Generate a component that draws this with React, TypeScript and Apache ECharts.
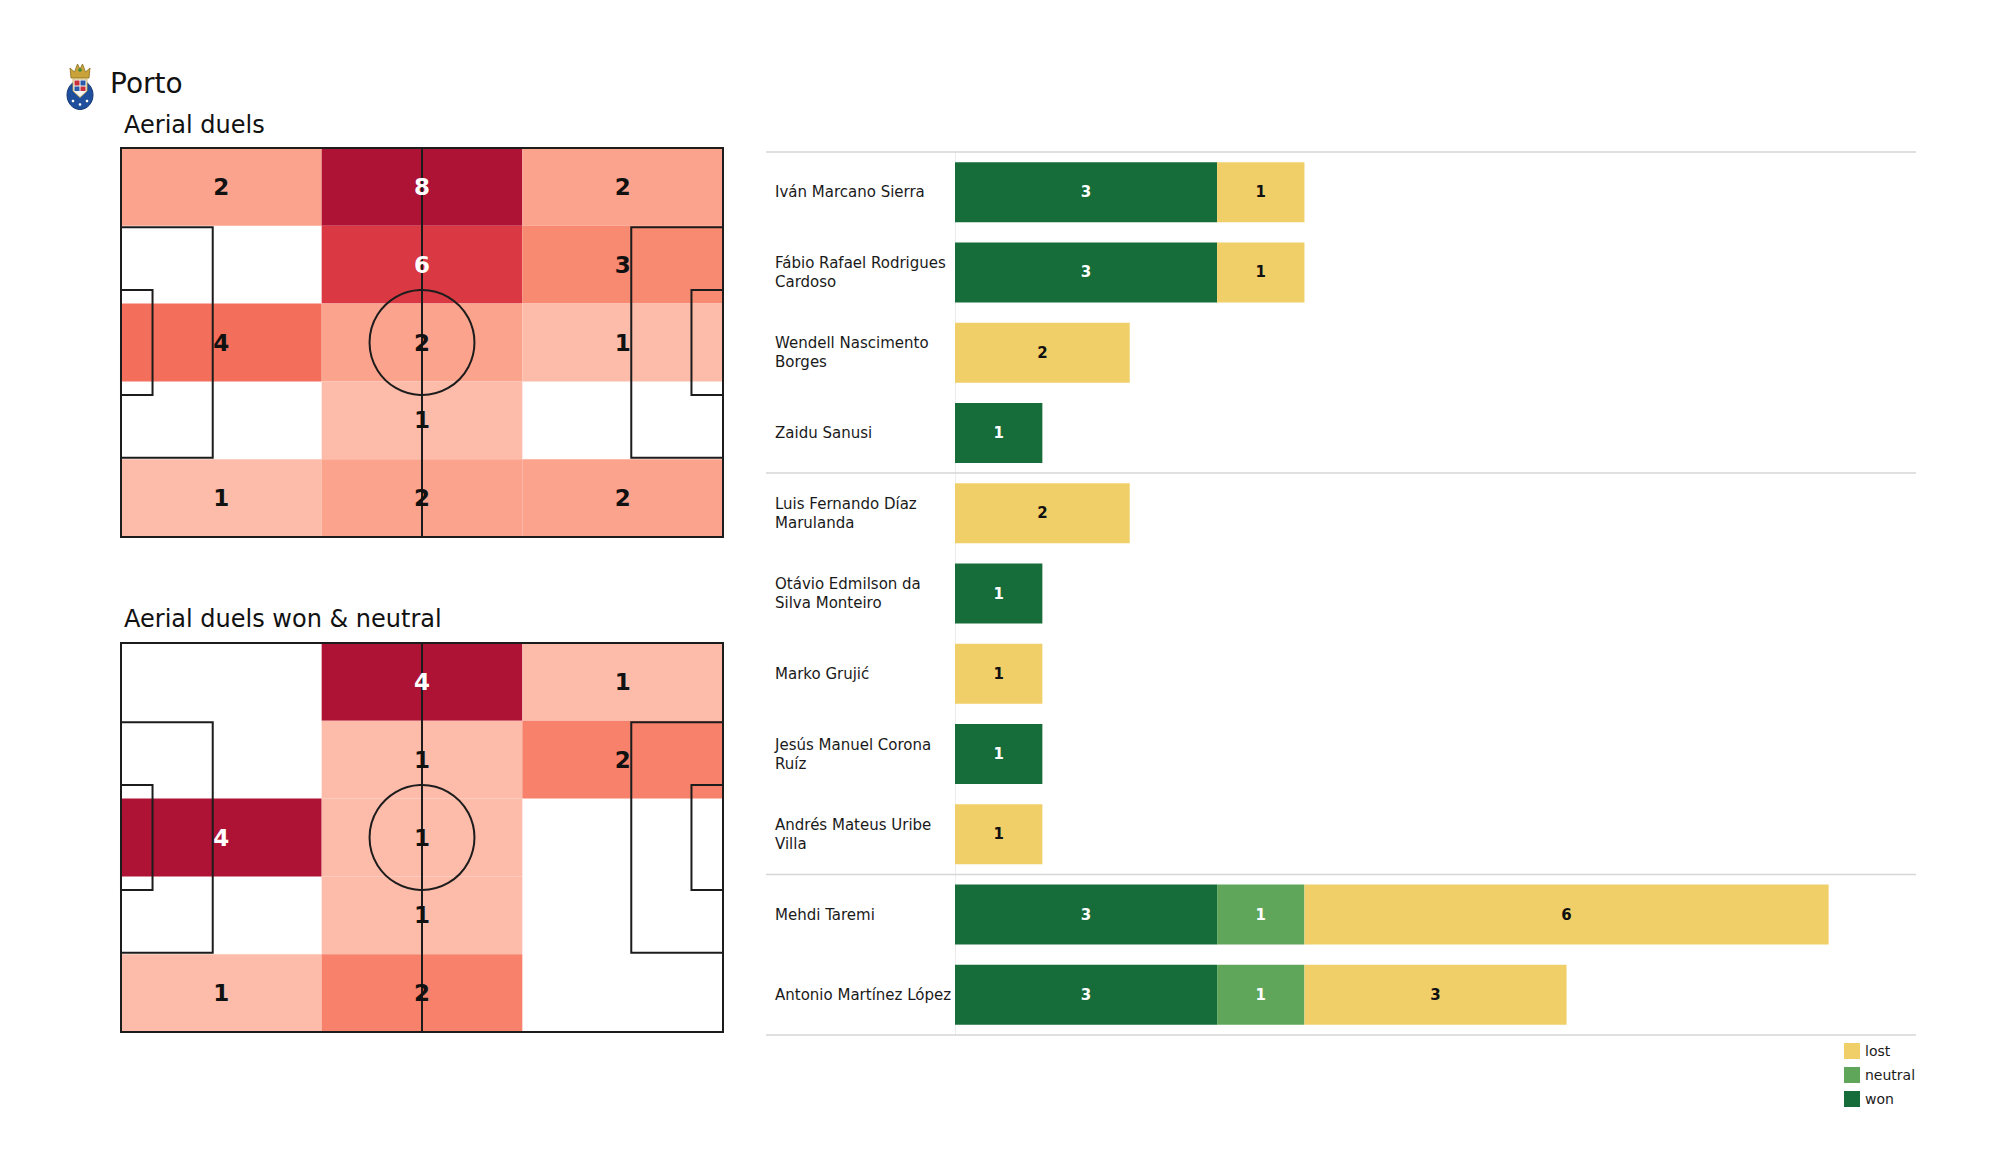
import React, { useEffect, useRef } from "react";
import * as echarts from "echarts";

// ---------------- DATA ----------------
const TEAM = "Porto";
const TITLE_ALL = "Aerial duels";
const TITLE_WON = "Aerial duels won & neutral";

// heat grids: 5 rows (top -> bottom) x 3 columns (left -> right)
const DUELS_GRID = [
  [2, 8, 2],
  [0, 6, 3],
  [4, 2, 1],
  [0, 1, 0],
  [1, 2, 2],
];
const WON_NEUTRAL_GRID = [
  [0, 4, 1],
  [0, 1, 2],
  [4, 1, 0],
  [0, 1, 0],
  [1, 2, 0],
];

const PLAYERS = [
  "Iván Marcano Sierra",
  "Fábio Rafael Rodrigues\nCardoso",
  "Wendell Nascimento\nBorges",
  "Zaidu Sanusi",
  "Luis Fernando Díaz\nMarulanda",
  "Otávio Edmilson da\nSilva Monteiro",
  "Marko Grujić",
  "Jesús Manuel Corona\nRuíz",
  "Andrés Mateus Uribe\nVilla",
  "Mehdi Taremi",
  "Antonio Martínez López",
];
const WON = [3, 3, 0, 1, 0, 1, 0, 1, 0, 3, 3];
const NEUTRAL = [0, 0, 0, 0, 0, 0, 0, 0, 0, 1, 1];
const LOST = [1, 1, 2, 0, 2, 0, 1, 0, 1, 6, 3];
const GROUP_SIZES = [4, 5, 2];
const LEGEND_ORDER = ["lost", "neutral", "won"];

// pitch geometry (metres)
const PITCH_L = 105;
const PITCH_W = 68;
const PEN_L = 16;
const PEN_W = 40.32;
const SIX_L = 5.5;
const SIX_W = 18.32;
const CIRCLE_R = 9.15;

// ---------------- STYLE ----------------
const FONT = "DejaVu Sans";
const HEAT_COLORS = ["#FDBBAA", "#FB9981", "#F5755E", "#E74C4A", "#D02B3D", "#AE1235"];
const C_WON = "#176d39";
const C_NEUTRAL = "#60a65a";
const C_LOST = "#f0cf68";
const LINE_C = "#1c1c1c";

const ROWS = DUELS_GRID.length;
const COLS = DUELS_GRID[0].length;
const CELL_W = PITCH_L / COLS;
const CELL_H = PITCH_W / ROWS;

function cells(grid: number[][]) {
  const out: number[][] = [];
  grid.forEach((row, r) => row.forEach((v, c) => { if (v > 0) out.push([c, r, v]); }));
  return out;
}
function gridMin(grid: number[][]) {
  return Math.min(...grid.flat().filter((v) => v > 0));
}
function gridMax(grid: number[][]) {
  return Math.max(...grid.flat());
}

function cellSeries(grid: number[][], axis: number) {
  return {
    type: "custom",
    xAxisIndex: axis,
    yAxisIndex: axis,
    z: 1,
    encode: { x: 0, y: 1 },
    data: cells(grid),
    renderItem: (params: any, api: any) => {
      const c = api.value(0), r = api.value(1);
      const a = api.coord([c * CELL_W, r * CELL_H]);
      const b = api.coord([(c + 1) * CELL_W, (r + 1) * CELL_H]);
      return {
        type: "rect",
        shape: { x: a[0], y: a[1], width: b[0] - a[0], height: b[1] - a[1] },
        style: { fill: api.visual("color") },
      };
    },
  };
}

function labelSeries(grid: number[][], axis: number) {
  const mn = gridMin(grid), mx = gridMax(grid);
  return {
    type: "custom",
    xAxisIndex: axis,
    yAxisIndex: axis,
    z: 3,
    encode: { x: 0, y: 1 },
    data: cells(grid),
    renderItem: (params: any, api: any) => {
      const c = api.value(0), r = api.value(1), v = api.value(2);
      const p = api.coord([(c + 0.5) * CELL_W, (r + 0.5) * CELL_H]);
      const t = mx > mn ? (v - mn) / (mx - mn) : 1;
      return {
        type: "text",
        x: p[0],
        y: p[1],
        style: {
          text: String(v),
          fill: t > 0.6 ? "#ffffff" : "#111111",
          fontFamily: FONT,
          fontSize: 23,
          fontWeight: "bold",
          align: "center",
          verticalAlign: "middle",
        },
      };
    },
  };
}

function pitchSeries(axis: number) {
  return {
    type: "custom",
    xAxisIndex: axis,
    yAxisIndex: axis,
    z: 2,
    encode: { x: 0, y: 1 },
    data: [[PITCH_L / 2, PITCH_W / 2]],
    renderItem: (params: any, api: any) => {
      const st = { fill: "none", stroke: LINE_C, lineWidth: 2 };
      const rect = (x0: number, y0: number, x1: number, y1: number) => {
        const a = api.coord([x0, y0]);
        const b = api.coord([x1, y1]);
        return { type: "rect", shape: { x: a[0], y: a[1], width: b[0] - a[0], height: b[1] - a[1] }, style: st };
      };
      const h0 = api.coord([PITCH_L / 2, 0]);
      const h1 = api.coord([PITCH_L / 2, PITCH_W]);
      const ctr = api.coord([PITCH_L / 2, PITCH_W / 2]);
      const rad = api.size([CIRCLE_R, 0])[0];
      const pw0 = (PITCH_W - PEN_W) / 2, pw1 = (PITCH_W + PEN_W) / 2;
      const sw0 = (PITCH_W - SIX_W) / 2, sw1 = (PITCH_W + SIX_W) / 2;
      return {
        type: "group",
        children: [
          rect(0, 0, PITCH_L, PITCH_W),
          { type: "line", shape: { x1: h0[0], y1: h0[1], x2: h1[0], y2: h1[1] }, style: st },
          { type: "circle", shape: { cx: ctr[0], cy: ctr[1], r: rad }, style: st },
          rect(0, pw0, PEN_L, pw1),
          rect(PITCH_L - PEN_L, pw0, PITCH_L, pw1),
          rect(0, sw0, SIX_L, sw1),
          rect(PITCH_L - SIX_L, sw0, PITCH_L, sw1),
        ],
      };
    },
  };
}

function barSeries(name: string, data: number[], color: string, labelColor: string) {
  return {
    type: "bar",
    name,
    stack: "total",
    xAxisIndex: 2,
    yAxisIndex: 2,
    barWidth: 60,
    data,
    itemStyle: { color },
    label: {
      show: true,
      position: "inside",
      color: labelColor,
      fontFamily: FONT,
      fontSize: 15,
      fontWeight: "bold",
      formatter: (p: any) => (p.value ? String(p.value) : ""),
    },
    emphasis: { disabled: true },
  };
}

const PITCH_AXIS = (grid: number) => [
  { gridIndex: grid, type: "value", min: 0, max: PITCH_L, show: false },
];

export default function App() {
  const ref = useRef<HTMLDivElement>(null);
  useEffect(() => {
    if (!ref.current) return;
    const chart = echarts.init(ref.current, null, { renderer: "svg" });
    const option: any = {
      animation: false,
      backgroundColor: "#ffffff",
      textStyle: { fontFamily: FONT },
      grid: [
        { left: 121, top: 148, width: 602, height: 389 },
        { left: 121, top: 643, width: 602, height: 389 },
        { left: 955, top: 152, width: 961, height: 883 },
      ],
      xAxis: [
        ...PITCH_AXIS(0),
        ...PITCH_AXIS(1),
        { gridIndex: 2, type: "value", min: 0, max: 11, show: false },
      ],
      yAxis: [
        { gridIndex: 0, type: "value", min: 0, max: PITCH_W, inverse: true, show: false },
        { gridIndex: 1, type: "value", min: 0, max: PITCH_W, inverse: true, show: false },
        {
          gridIndex: 2,
          type: "category",
          data: PLAYERS,
          inverse: true,
          axisLine: { show: true, lineStyle: { color: "#ececec", width: 1 } },
          axisTick: { show: false },
          splitLine: { show: false },
          axisLabel: {
            align: "left",
            margin: 180,
            fontFamily: FONT,
            fontSize: 15,
            lineHeight: 19,
            color: "#1a1a1a",
          },
        },
      ],
      visualMap: [
        {
          type: "continuous", show: false, seriesIndex: 0, dimension: 2,
          min: gridMin(DUELS_GRID), max: gridMax(DUELS_GRID),
          inRange: { color: HEAT_COLORS },
        },
        {
          type: "continuous", show: false, seriesIndex: 3, dimension: 2,
          min: gridMin(WON_NEUTRAL_GRID), max: gridMax(WON_NEUTRAL_GRID),
          inRange: { color: HEAT_COLORS },
        },
      ],
      legend: {
        data: LEGEND_ORDER,
        orient: "vertical",
        left: 1844,
        top: 1043,
        padding: 0,
        itemWidth: 16,
        itemHeight: 16,
        itemGap: 8,
        icon: "rect",
        selectedMode: false,
        textStyle: { fontFamily: FONT, fontSize: 14, color: "#1a1a1a" },
      },
      series: [
        cellSeries(DUELS_GRID, 0),
        pitchSeries(0),
        labelSeries(DUELS_GRID, 0),
        cellSeries(WON_NEUTRAL_GRID, 1),
        pitchSeries(1),
        labelSeries(WON_NEUTRAL_GRID, 1),
        barSeries("won", WON, C_WON, "#ffffff"),
        barSeries("neutral", NEUTRAL, C_NEUTRAL, "#ffffff"),
        barSeries("lost", LOST, C_LOST, "#111111"),
      ],
    };
    chart.setOption(option);

    // group separator lines
    const pos = PLAYERS.map((_, i) => chart.convertToPixel({ yAxisIndex: 2 } as any, i) as number);
    const band = pos[1] - pos[0];
    const ys = [pos[0] - band / 2];
    let idx = 0;
    GROUP_SIZES.forEach((g) => { idx += g; ys.push(pos[idx - 1] + band / 2); });
    const xRight = chart.convertToPixel({ xAxisIndex: 2 } as any, 11) as number;
    const sepLines = ys.map((y) => ({
      type: "line",
      shape: { x1: 766, y1: y, x2: xRight, y2: y },
      style: { stroke: "#d6d6d6", lineWidth: 1.5 },
      z: 5,
    }));

    const logo = [
      { type: "polygon", shape: { points: [[71, 78], [70, 68], [74.5, 72], [77.5, 64], [80, 69], [82.5, 64], [85.5, 72], [90, 68], [89, 78]] }, style: { fill: "#c9a23a", stroke: "#8a6d1f", lineWidth: 0.8 } },
      { type: "circle", shape: { cx: 80, cy: 70, r: 1.8 }, style: { fill: "#3f8a3a" } },
      { type: "ellipse", shape: { cx: 80, cy: 95, rx: 13, ry: 14.5 }, style: { fill: "#1f4f9c", stroke: "#163a75", lineWidth: 1 } },
      { type: "polygon", shape: { points: [[73, 79], [87, 79], [87, 91], [80, 97.5], [73, 91]] }, style: { fill: "#f4f4f4", stroke: "#c9a23a", lineWidth: 0.8 } },
      { type: "rect", shape: { x: 74.5, y: 80.5, width: 5, height: 5 }, style: { fill: "#c8313a" } },
      { type: "rect", shape: { x: 80.5, y: 80.5, width: 5, height: 5 }, style: { fill: "#2a5aa8" } },
      { type: "rect", shape: { x: 74.5, y: 86.5, width: 5, height: 4.5 }, style: { fill: "#2a5aa8" } },
      { type: "rect", shape: { x: 80.5, y: 86.5, width: 5, height: 4.5 }, style: { fill: "#c8313a" } },
      { type: "circle", shape: { cx: 73, cy: 101, r: 1.3 }, style: { fill: "#ffffff" } },
      { type: "circle", shape: { cx: 80, cy: 104.5, r: 1.3 }, style: { fill: "#ffffff" } },
      { type: "circle", shape: { cx: 87, cy: 101, r: 1.3 }, style: { fill: "#ffffff" } },
    ];

    const titles = [
      { type: "text", x: 110, y: 83, style: { text: TEAM, fontFamily: FONT, fontSize: 28, fill: "#111111", align: "left", verticalAlign: "middle" } },
      { type: "text", x: 124, y: 124.5, style: { text: TITLE_ALL, fontFamily: FONT, fontSize: 24, fill: "#111111", align: "left", verticalAlign: "middle" } },
      { type: "text", x: 124, y: 619, style: { text: TITLE_WON, fontFamily: FONT, fontSize: 24, fill: "#111111", align: "left", verticalAlign: "middle" } },
    ];

    chart.setOption({ graphic: [...logo, ...titles, ...sepLines] });

    return () => chart.dispose();
  }, []);

  return (
    <div
      ref={ref}
      style={{ position: "absolute", left: 0, top: 0, width: 2000, height: 1175, background: "#ffffff" }}
    />
  );
}
